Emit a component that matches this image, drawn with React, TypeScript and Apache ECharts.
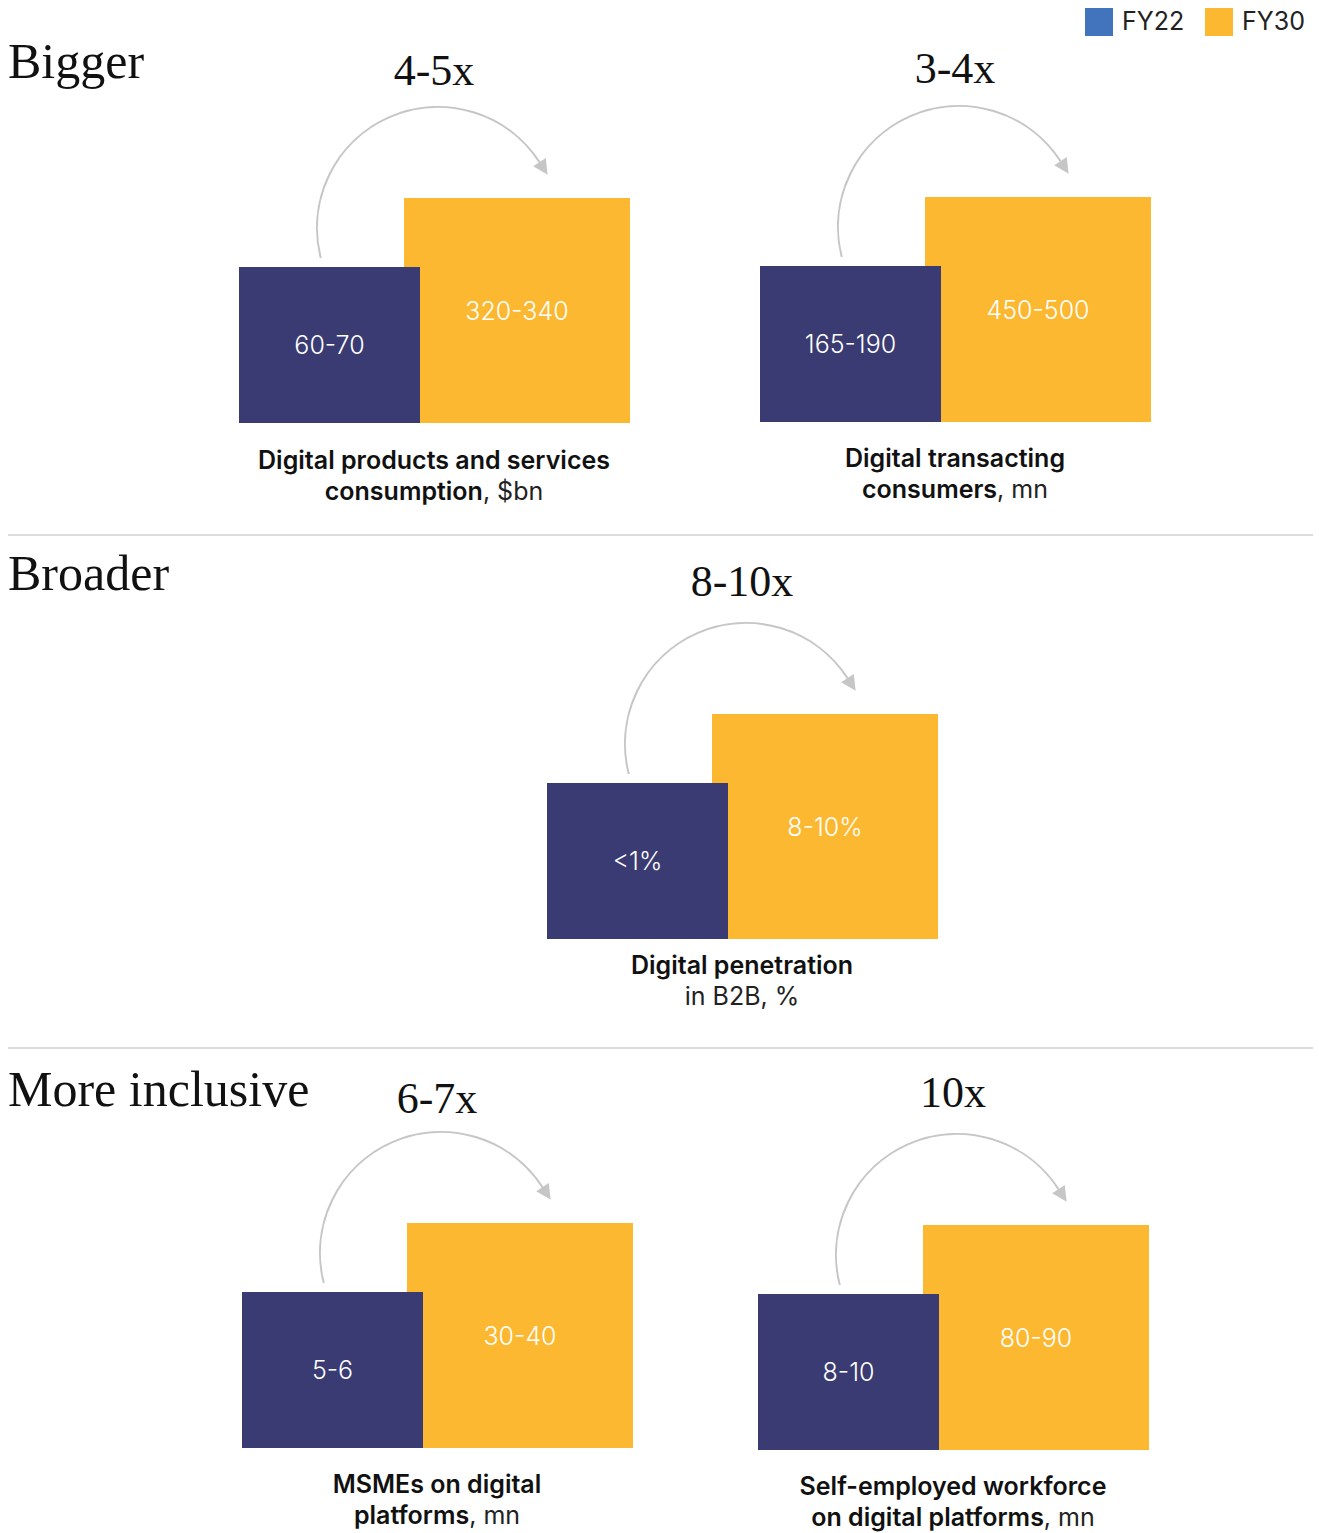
import React, { useEffect, useRef } from "react";
import * as echarts from "echarts";

// ---- Data ----
const sectionTitles = ["Bigger", "Broader", "More inclusive"];
const legendLabels = ["FY22", "FY30"];
const fy22Values = ["60-70", "165-190", "<1%", "5-6", "8-10"];
const fy30Values = ["320-340", "450-500", "8-10%", "30-40", "80-90"];
const multipliers = ["4-5x", "3-4x", "8-10x", "6-7x", "10x"];
const captionLine1 = [
  "Digital products and services",
  "Digital transacting",
  "Digital penetration",
  "MSMEs on digital",
  "Self-employed workforce",
];
const captionLine2Bold = ["consumption", "consumers", "", "platforms", "on digital platforms"];
const captionUnit = [", $bn", ", mn", "in B2B, %", ", mn", ", mn"];

// ---- Layout (positions only) ----
const W = 1319;
const H = 1533;
const panelOrigin: [number, number][] = [
  [239, 267],
  [760, 266],
  [547, 783],
  [242, 1292],
  [758, 1294],
];
const multiplierY = [70, 68, 581, 1098, 1092];
const captionY = [460, 458, 965, 1484, 1486];
const sectionY = [61, 573, 1089];
const dividerY = [535, 1048];

const NAVY = "#3a3b72";
const YELLOW = "#fbb830";
const LEGEND_BLUE = "#4273bd";
const ARC = "#c6c6c6";
const SANS = "Inter, 'Noto Sans', sans-serif";
const SERIF = "'Liberation Serif', 'DejaVu Serif', serif";

function buildGraphics() {
  const els: any[] = [];
  // legend
  const legendColors = [LEGEND_BLUE, YELLOW];
  const legendX = [1085, 1205];
  legendLabels.forEach((lab, i) => {
    els.push({ type: "rect", shape: { x: legendX[i], y: 8, width: 28, height: 28 }, style: { fill: legendColors[i] } });
    els.push({
      type: "text",
      x: legendX[i] + 37,
      y: 21,
      style: { text: lab, fill: "#222", font: `400 25px ${SANS}`, align: "left", verticalAlign: "middle" },
    });
  });
  // section titles
  sectionTitles.forEach((t, i) => {
    els.push({
      type: "text",
      x: 8,
      y: sectionY[i],
      style: { text: t, fill: "#111", font: `400 50px ${SERIF}`, align: "left", verticalAlign: "middle" },
    });
  });
  // dividers
  dividerY.forEach((y) => {
    els.push({ type: "line", shape: { x1: 8, y1: y, x2: 1313, y2: y }, style: { stroke: "#d0d0d0", lineWidth: 1.5 } });
  });
  // panels
  panelOrigin.forEach(([nx, ny], i) => {
    const cxText = nx + 195;
    // yellow square (FY30)
    const yx = nx + 165, yy = ny - 69, yw = 226, yh = 225;
    els.push({ type: "rect", shape: { x: yx, y: yy, width: yw, height: yh }, style: { fill: YELLOW } });
    // navy square (FY22)
    const nw = 181, nh = 156;
    els.push({ type: "rect", shape: { x: nx, y: ny, width: nw, height: nh }, style: { fill: NAVY } });
    els.push({
      type: "text",
      x: nx + nw / 2,
      y: ny + nh / 2,
      style: { text: fy22Values[i], fill: "#fff", font: `300 25px ${SANS}`, align: "center", verticalAlign: "middle" },
    });
    els.push({
      type: "text",
      x: yx + yw / 2,
      y: yy + yh / 2,
      style: { text: fy30Values[i], fill: "#fff", font: `300 25px ${SANS}`, align: "center", verticalAlign: "middle" },
    });
    // arc
    const acx = nx + 199, acy = ny - 39, r = 121;
    const sa = (165.6 * Math.PI) / 180;
    const ea = (327 * Math.PI) / 180;
    els.push({
      type: "arc",
      shape: { cx: acx, cy: acy, r, startAngle: sa, endAngle: ea, clockwise: true },
      style: { stroke: ARC, lineWidth: 2, fill: "none" },
    });
    // arrowhead
    const bx = acx + r * Math.cos(ea), by = acy + r * Math.sin(ea);
    const tx = -Math.sin(ea), ty = Math.cos(ea);
    const len = 15, half = 7.5;
    const tipX = bx + tx * len, tipY = by + ty * len;
    const px = -ty, py = tx;
    els.push({
      type: "polygon",
      shape: { points: [[tipX, tipY], [bx + px * half, by + py * half], [bx - px * half, by - py * half]] },
      style: { fill: ARC },
    });
    // multiplier
    els.push({
      type: "text",
      x: cxText,
      y: multiplierY[i],
      style: { text: multipliers[i], fill: "#111", font: `400 44px ${SERIF}`, align: "center", verticalAlign: "middle" },
    });
    // caption
    els.push({
      type: "text",
      x: cxText,
      y: captionY[i],
      style: { text: captionLine1[i], fill: "#111", font: `600 25px ${SANS}`, align: "center", verticalAlign: "middle" },
    });
    const line2 = (captionLine2Bold[i] ? `{b|${captionLine2Bold[i]}}` : "") + `{r|${captionUnit[i]}}`;
    els.push({
      type: "text",
      x: cxText,
      y: captionY[i] + 31,
      style: {
        text: line2,
        align: "center",
        verticalAlign: "middle",
        rich: {
          b: { fill: "#111", font: `600 25px ${SANS}`, fontFamily: SANS, fontWeight: 600, fontSize: 25, lineHeight: 28 },
          r: { fill: "#222", font: `400 25px ${SANS}`, fontFamily: SANS, fontWeight: 400, fontSize: 25, lineHeight: 28 },
        },
      },
    });
  });
  return els;
}

export default function App() {
  const ref = useRef<HTMLDivElement>(null);
  useEffect(() => {
    document.body.style.margin = "0";
    if (!ref.current) return;
    const chart = echarts.init(ref.current, undefined, { renderer: "svg" });
    chart.setOption({
      animation: false,
      backgroundColor: "#ffffff",
      graphic: { elements: buildGraphics() },
    });
    return () => chart.dispose();
  }, []);
  return <div ref={ref} style={{ width: W, height: H, overflow: "hidden" }} />;
}
